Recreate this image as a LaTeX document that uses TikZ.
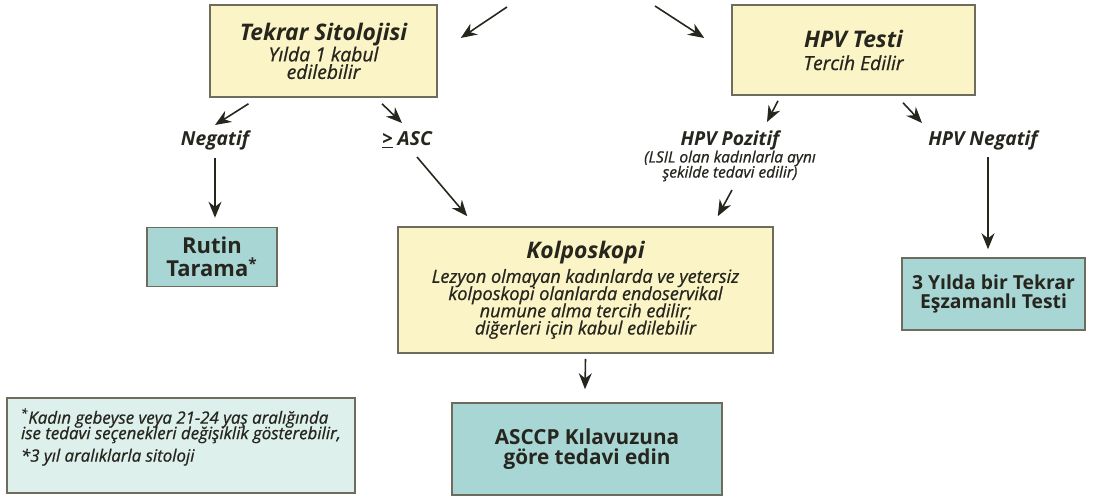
\documentclass[tikz,border=0pt]{standalone}
\usepackage{fontspec}
\setmainfont{Open Sans}
\newfontfamily\yarifam{Open Sans}[ItalicFeatures={FakeBold=0.8}]
\usetikzlibrary{arrows.meta}
\definecolor{sari}{HTML}{FBF4C6}
\definecolor{camgobegi}{HTML}{A8D6D4}
\definecolor{acik}{HTML}{DDF0EC}
\definecolor{cerceve}{HTML}{6E6C5C}
\definecolor{yazi}{HTML}{26261E}
\newcommand{\yari}{\yarifam\itshape}
\newcommand{\sik}{\lineskiplimit=-20pt\relax}
\newcommand{\baslik}{\fontsize{13}{12}\selectfont\bfseries\itshape}
\newcommand{\altyazi}{\fontsize{11}{10}\selectfont\yari}

\begin{document}
\begin{tikzpicture}[x=0.02cm, y=-0.02cm, >={Stealth[length=3.2mm,width=2.6mm]},
  every node/.style = {text=yazi},
  sarikutu/.style = {draw=cerceve, line width=0.9pt, fill=sari, align=center, inner sep=2pt},
  mavikutu/.style = {draw=cerceve, line width=0.9pt, fill=camgobegi, align=center, inner sep=2pt, font=\fontsize{11.8}{11}\selectfont\bfseries},
  etiket/.style = {font=\fontsize{11}{11}\selectfont\bfseries\itshape},
  ok/.style = {->, line width=0.9pt, draw=yazi}]
\useasboundingbox (0,0) rectangle (1094,500);
\node[sarikutu, minimum width=4.54cm, minimum height=1.84cm,
  font=\fontsize{11}{10}\selectfont\sik] (1) at (323.5,51)
  {\baslik Tekrar Sitolojisi\\[2pt] \altyazi Yılda 1 kabul\\ \altyazi edilebilir};
\node[sarikutu, minimum width=4.86cm, minimum height=1.8cm] (2) at (853.5,50)
  {\baslik HPV Testi\\[1pt] \altyazi Tercih Edilir};
\node[etiket] (3) at (215,140) {Negatif};
\node[etiket] (4) at (407,140) {\underline{>} ASC};
\node[etiket] (5) at (730,140) {HPV Pozitif};
\node[align=center, font=\fontsize{8.8}{8.6}\selectfont\yari\sik] (6) at (730,166)
  {(LSIL olan kadınlarla aynı\\ şekilde tedavi edilir)};
\node[etiket] (7) at (983,140) {HPV Negatif};
\node[mavikutu, minimum width=2.6cm, minimum height=1.18cm, font=\fontsize{12.5}{13}\selectfont\bfseries\sik] (8) at (212,257)
  {Rutin\\ Tarama\textsuperscript{*}};
\node[sarikutu, minimum width=7.5cm, minimum height=2.52cm,
  font=\fontsize{10.3}{9.8}\selectfont\yari\sik] (9) at (585.5,290)
  {\baslik Kolposkopi\\[4pt]
   \yari Lezyon olmayan kadınlarda ve yetersiz\\
   \yari kolposkopi olanlarda endoservikal\\
   \yari numune alma tercih edilir;\\
   \yari diğerleri için kabul edilebilir};
\node[mavikutu, minimum width=3.66cm, minimum height=1.44cm, font=\fontsize{11}{11}\selectfont\bfseries] (10) at (993.5,294)
  {3 Yılda bir Tekrar\\ Eşzamanlı Testi};
\node[mavikutu, minimum width=5.4cm, minimum height=1.84cm] (11) at (587,449)
  {ASCCP Kılavuzuna\\ göre tedavi edin};
\node[draw=cerceve, line width=0.9pt, fill=acik, minimum width=6.96cm, minimum height=1.9cm,
  text depth=12pt, align=left, font=\fontsize{9.6}{8.8}\selectfont\yari\sik] (12) at (181,445.5)
  {\textsuperscript{*}Kadın gebeyse veya 21-24 yaş aralığında\\
   ise tedavi seçenekleri değişiklik gösterebilir,\\[4pt]
   *3 yıl aralıklarla sitoloji};
\coordinate (g1) at (507,7);
\coordinate (g2) at (655,6);
\draw[ok] (g1) -- ([shift={(23,-13)}]1.east);
\draw[ok] (g2) -- ([shift={(-27,-12)}]2.west);
\draw[ok] ([shift={(-75,6)}]1.south) -- ([shift={(0,-15)}]3.center);
\draw[ok] ([shift={(58.5,6)}]1.south) -- ([shift={(-5,-17)}]4.center);
\draw[ok] ([shift={(0,18)}]3.center) -- ([shift={(3,-9)}]8.north);
\draw[ok] ([shift={(10,17)}]4.center) -- ([shift={(70,-10)}]9.north west);
\draw[ok] ([shift={(-75.5,5)}]2.south) -- ([shift={(37,-18)}]5.center);
\draw[ok] ([shift={(49.5,7)}]2.south) -- ([shift={(-61,-17)}]7.center);
\draw[ok] ([shift={(2,24)}]6.center) -- ([shift={(-56,-10)}]9.north east);
\draw[ok] ([shift={(5,17)}]7.center) -- ([shift={(-5.5,-8)}]10.north);
\draw[ok] ([shift={(0,5)}]9.south) -- ([shift={(-2,-13)}]11.north);
\end{tikzpicture}
\end{document}
